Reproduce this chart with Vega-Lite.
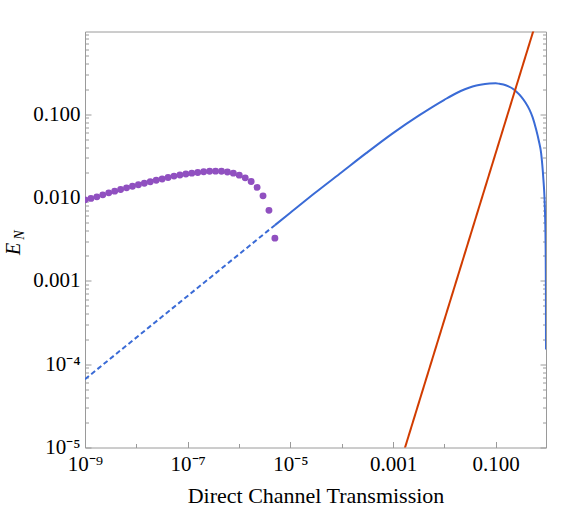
{
  "$schema": "https://vega.github.io/schema/vega-lite/v6.json",
  "autosize": {"type": "none"},
  "width": 461,
  "height": 416,
  "padding": {"left": 85, "top": 31.5, "right": 35, "bottom": 60.5},
  "background": "white",
  "config": {
    "view": {"stroke": "#9a9a9a", "strokeWidth": 1},
    "axis": {"labelFont": "Liberation Serif", "titleFont": "Liberation Serif", "labelColor": "black", "titleColor": "black", "titleFontWeight": "normal", "domain": false, "grid": false, "tickColor": "#9a9a9a", "labelOverlap": false, "labelBound": false, "labelFlush": false}
  },
  "datasets": {
    "curves": [
      {"series": "dashed", "x": 1e-9, "y": 6.6e-5},
      {"series": "dashed", "x": 5e-6, "y": 0.00465},
      {"series": "solid", "x": 5e-6, "y": 0.00465},
      {"series": "solid", "x": 1e-5, "y": 0.00655},
      {"series": "solid", "x": 3e-5, "y": 0.0113},
      {"series": "solid", "x": 1e-4, "y": 0.0201},
      {"series": "solid", "x": 3e-4, "y": 0.034},
      {"series": "solid", "x": 1e-3, "y": 0.0592},
      {"series": "solid", "x": 0.003162, "y": 0.0959},
      {"series": "solid", "x": 0.01, "y": 0.1486},
      {"series": "solid", "x": 0.01698, "y": 0.178},
      {"series": "solid", "x": 0.02512, "y": 0.1986},
      {"series": "solid", "x": 0.03548, "y": 0.2143},
      {"series": "solid", "x": 0.05012, "y": 0.2257},
      {"series": "solid", "x": 0.07586, "y": 0.2333},
      {"series": "solid", "x": 0.1, "y": 0.2345},
      {"series": "solid", "x": 0.1186, "y": 0.231},
      {"series": "solid", "x": 0.1413, "y": 0.2265},
      {"series": "solid", "x": 0.1778, "y": 0.2148},
      {"series": "solid", "x": 0.2089, "y": 0.2042},
      {"series": "solid", "x": 0.2506, "y": 0.1866},
      {"series": "solid", "x": 0.3162, "y": 0.1614},
      {"series": "solid", "x": 0.3802, "y": 0.138},
      {"series": "solid", "x": 0.455, "y": 0.1132},
      {"series": "solid", "x": 0.5248, "y": 0.0914},
      {"series": "solid", "x": 0.6138, "y": 0.0653},
      {"series": "solid", "x": 0.6918, "y": 0.0479},
      {"series": "solid", "x": 0.7674, "y": 0.034},
      {"series": "solid", "x": 0.8511, "y": 0.01626},
      {"series": "solid", "x": 0.8913, "y": 0.0102},
      {"series": "solid", "x": 0.92, "y": 0.0056},
      {"series": "solid", "x": 0.94, "y": 0.0024},
      {"series": "solid", "x": 0.95, "y": 0.0008},
      {"series": "solid", "x": 0.954, "y": 0.00015},
      {"series": "red", "x": 0.001, "y": 3.4e-6},
      {"series": "red", "x": 0.7, "y": 1.666}
    ],
    "dots": [
      {"x": 1e-9, "y": 0.00936},
      {"x": 1.305e-9, "y": 0.00975},
      {"x": 1.703e-9, "y": 0.01017},
      {"x": 2.222e-9, "y": 0.01075},
      {"x": 2.901e-9, "y": 0.01136},
      {"x": 3.784e-9, "y": 0.01191},
      {"x": 4.938e-9, "y": 0.01247},
      {"x": 6.444e-9, "y": 0.01304},
      {"x": 8.41e-9, "y": 0.01363},
      {"x": 1.0975e-8, "y": 0.01421},
      {"x": 1.432e-8, "y": 0.01481},
      {"x": 1.869e-8, "y": 0.0154},
      {"x": 2.439e-8, "y": 0.01605},
      {"x": 3.183e-8, "y": 0.01664},
      {"x": 4.154e-8, "y": 0.01739},
      {"x": 5.421e-8, "y": 0.01803},
      {"x": 7.071e-8, "y": 0.01858},
      {"x": 9.228e-8, "y": 0.0191},
      {"x": 1.2042e-7, "y": 0.01958},
      {"x": 1.5715e-7, "y": 0.01996},
      {"x": 2.051e-7, "y": 0.02035},
      {"x": 2.676e-7, "y": 0.02058},
      {"x": 3.492e-7, "y": 0.02069},
      {"x": 4.557e-7, "y": 0.02058},
      {"x": 5.947e-7, "y": 0.02018},
      {"x": 7.761e-7, "y": 0.01958},
      {"x": 1.0128e-6, "y": 0.01853},
      {"x": 1.3213e-6, "y": 0.01719},
      {"x": 1.7244e-6, "y": 0.01553},
      {"x": 2.2504e-6, "y": 0.01322},
      {"x": 2.9367e-6, "y": 0.01045},
      {"x": 3.832e-6, "y": 0.007},
      {"x": 5.0e-6, "y": 0.00325}
    ]
  },
  "resolve": {"axis": {"x": "independent", "y": "independent"}},
  "layer": [
    {
      "data": {"name": "curves"},
      "transform": [{"filter": "datum.series == 'dashed'"}],
      "mark": {"type": "line", "color": "#3a6bd6", "strokeWidth": 2, "strokeDash": [5, 3], "clip": true},
      "encoding": {
        "x": {"field": "x", "type": "quantitative", "scale": {"type": "log", "domain": [1e-9, 0.955], "nice": false},
          "axis": {"orient": "bottom", "title": "Direct Channel Transmission", "titleFontSize": 22, "titlePadding": 9,
            "values": [1e-9, 1e-8, 1e-7, 1e-6, 1e-5, 1e-4, 1e-3, 1e-2, 1e-1],
            "labelExpr": "datum.value == 1e-9 ? '10⁻⁹' : datum.value == 1e-7 ? '10⁻⁷' : datum.value == 1e-5 ? '10⁻⁵' : datum.value == 1e-3 ? '0.001' : datum.value == 0.1 ? '0.100' : ''",
            "labelFontSize": 21, "labelPadding": 12,
            "tickSize": {"condition": {"test": "round(log(datum.value)/LN10) % 2 != 0", "value": -6}, "value": -4}}},
        "y": {"field": "y", "type": "quantitative", "scale": {"type": "log", "domain": [1e-5, 0.98], "nice": false},
          "axis": {"orient": "left", "title": "E", "titleFontSize": 20, "titleFontStyle": "italic", "titleAngle": 270,
            "titleX": -66, "titleY": 217, "titleAlign": "center", "titleBaseline": "alphabetic",
            "values": [1e-5, 2e-5, 3e-5, 4e-5, 5e-5, 6e-5, 7e-5, 8e-5, 9e-5, 1e-4, 2e-4, 3e-4, 4e-4, 5e-4, 6e-4, 7e-4, 8e-4, 9e-4, 1e-3, 2e-3, 3e-3, 4e-3, 5e-3, 6e-3, 7e-3, 8e-3, 9e-3, 1e-2, 2e-2, 3e-2, 4e-2, 5e-2, 6e-2, 7e-2, 8e-2, 9e-2, 0.1, 0.2, 0.3, 0.4, 0.5, 0.6, 0.7, 0.8, 0.9],
            "labelExpr": "datum.value == 0.1 ? '0.100' : datum.value == 0.01 ? '0.010' : datum.value == 0.001 ? '0.001' : datum.value == 1e-4 ? '10⁻⁴' : datum.value == 1e-5 ? '10⁻⁵' : ''",
            "labelFontSize": 21, "labelPadding": 11,
            "tickSize": {"condition": {"test": "abs(log(datum.value)/LN10 - round(log(datum.value)/LN10)) < 0.001", "value": -6}, "value": -3.5}}}
      }
    },
    {
      "data": {"name": "curves"},
      "transform": [{"filter": "datum.series == 'solid'"}],
      "mark": {"type": "line", "color": "#3a6bd6", "strokeWidth": 2, "clip": true, "interpolate": "monotone"},
      "encoding": {
        "x": {"field": "x", "type": "quantitative", "scale": {"type": "log", "domain": [1e-9, 0.955], "nice": false},
          "axis": {"orient": "top", "ticks": false, "labels": false, "domain": false, "title": "N", "titleFontSize": 14, "titleFontStyle": "italic", "titleAngle": 270,
            "titleX": -62, "titleY": 203, "titleAlign": "center", "titleBaseline": "alphabetic"}},
        "y": {"field": "y", "type": "quantitative", "scale": {"type": "log", "domain": [1e-5, 0.98], "nice": false},
          "axis": {"orient": "right", "labels": false, "title": null,
            "values": [1e-5, 2e-5, 3e-5, 4e-5, 5e-5, 6e-5, 7e-5, 8e-5, 9e-5, 1e-4, 2e-4, 3e-4, 4e-4, 5e-4, 6e-4, 7e-4, 8e-4, 9e-4, 1e-3, 2e-3, 3e-3, 4e-3, 5e-3, 6e-3, 7e-3, 8e-3, 9e-3, 1e-2, 2e-2, 3e-2, 4e-2, 5e-2, 6e-2, 7e-2, 8e-2, 9e-2, 0.1, 0.2, 0.3, 0.4, 0.5, 0.6, 0.7, 0.8, 0.9],
            "tickSize": {"condition": {"test": "abs(log(datum.value)/LN10 - round(log(datum.value)/LN10)) < 0.001", "value": -6}, "value": -3.5}}}
      }
    },
    {
      "data": {"name": "curves"},
      "transform": [{"filter": "datum.series == 'red'"}],
      "mark": {"type": "line", "color": "#d13c00", "strokeWidth": 2, "clip": true},
      "encoding": {
        "x": {"field": "x", "type": "quantitative", "scale": {"type": "log", "domain": [1e-9, 0.955], "nice": false}, "axis": null},
        "y": {"field": "y", "type": "quantitative", "scale": {"type": "log", "domain": [1e-5, 0.98], "nice": false}, "axis": null}
      }
    },
    {
      "data": {"name": "dots"},
      "mark": {"type": "circle", "color": "#9050c0", "opacity": 1, "size": 48, "clip": true},
      "encoding": {
        "x": {"field": "x", "type": "quantitative", "scale": {"type": "log", "domain": [1e-9, 0.955], "nice": false}, "axis": null},
        "y": {"field": "y", "type": "quantitative", "scale": {"type": "log", "domain": [1e-5, 0.98], "nice": false}, "axis": null}
      }
    }
  ]
}
